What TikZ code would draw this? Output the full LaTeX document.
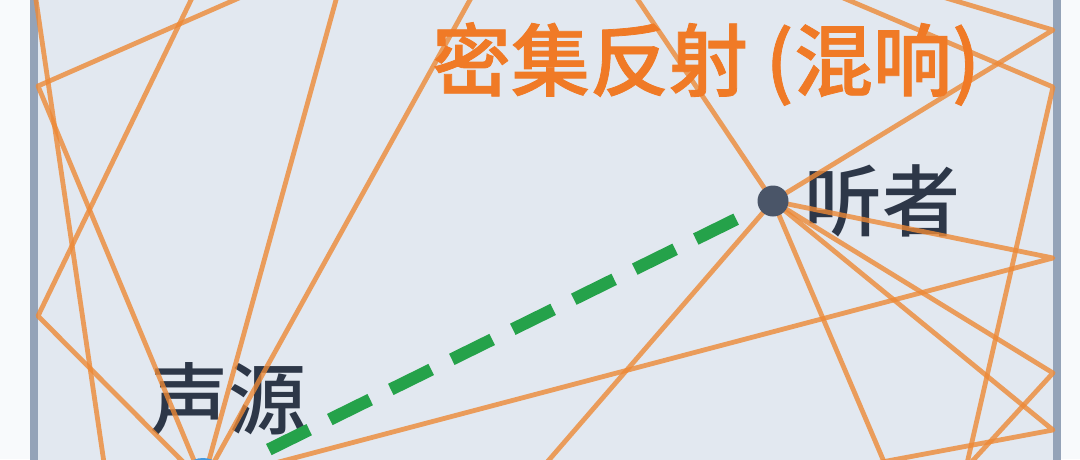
\documentclass[tikz,border=0pt]{standalone}
\usepackage{fontspec}
\usetikzlibrary{calc}
\newfontfamily\cjkm{Noto Sans CJK SC Medium}
\newfontfamily\cjkt{Noto Sans CJK SC Medium}[FakeBold=1]
\definecolor{outerbg}{HTML}{F8FAFC}
\definecolor{roomfill}{HTML}{E2E8F0}
\definecolor{wallc}{HTML}{94A3B8}
\definecolor{rayc}{HTML}{ED8936}
\definecolor{titlec}{HTML}{F07A26}
\definecolor{labelc}{HTML}{2D3748}
\definecolor{lisc}{HTML}{4A5568}
\definecolor{srcc}{HTML}{4299E1}
\definecolor{directc}{HTML}{25A24A}
\begin{document}
\begin{tikzpicture}[x=1pt,y=-1pt,
  ray/.style={draw=rayc, line width=4.8pt, opacity=0.8, line join=round},
  wallbar/.style={fill=wallc, draw=none},
  direct/.style={draw=directc, line width=12.5pt, dash pattern=on 45pt off 23pt},
  dotn/.style={circle, inner sep=0pt, draw=none},
  lbl/.style={inner sep=0pt, text=labelc, font=\cjkm\fontsize{78}{80}\selectfont},
  ttl/.style={inner sep=0pt, text=titlec, font=\cjkt\fontsize{79}{82}\selectfont},
]
\useasboundingbox (0,0) rectangle (1080,459);
\clip (0,0) rectangle (1080,459);
\fill[outerbg] (0,0) rectangle (1080,459);
\fill[roomfill] (38,-20) rectangle (1053,490);
\fill[wallbar] (30,-20) rectangle (38,490);
\fill[wallbar] (1053,-20) rectangle (1061,490);

% positions
\coordinate (S) at (203,482);
\coordinate (L) at (773,201);
% wall reflection points
\coordinate (R1) at (38,86);
\coordinate (R2) at (38,316);
\coordinate (R3) at (1053,87);
\coordinate (R4) at (1053,30);
\coordinate (R5) at (1053,258);
\coordinate (R6) at (1053,373);
\coordinate (R7) at (1053,430);
\coordinate (B1) at (966,468);
% ray ends beyond the picture
\coordinate (TA) at (35,-7);
\coordinate (BA) at (108,490);
\coordinate (TB) at (280,-20);
\coordinate (TC) at (200.7,-20);
\coordinate (TE) at (341.5,-20);
\coordinate (TF) at (481,-20);
\coordinate (TG) at (624.6,-20);
\coordinate (TI) at (801,-20);
\coordinate (TJ) at (886,-20);
\coordinate (BK) at (896,490);
\coordinate (BQ) at (839,470);
\coordinate (BN) at (523,490);

% labels
\node[lbl] (srclbl) at (228.5,399) {声源};
\node[lbl] (lislbl) at (882,200.5) {听者};

% reflections
\draw[ray] (TA) -- (BA);
\draw[ray] (TB) -- (R1) -- (S);
\draw[ray] (TC) -- (R2) -- (S);
\draw[ray] (TE) -- (S);
\draw[ray] (TF) -- (S);
\draw[ray] (TG) -- (L);
\draw[ray] (TI) -- (R3) -- (B1);
\draw[ray] (TJ) -- (R4) -- (L);
\draw[ray] (L) -- (R5) -- (S);
\draw[ray] (L) -- (R6) -- (B1);
\draw[ray] (L) -- (R7) -- (BQ);
\draw[ray] (L) -- (BK);
\draw[ray] (L) -- (BN);

% direct sound
\draw[direct] ($(S)!73.4pt!(L)$) -- ($(L)!20pt!(S)$);

% source and listener
\node[dotn, fill=srcc, minimum size=48pt] (src) at (S) {};
\node[dotn, fill=lisc, minimum size=31pt] (lis) at (L) {};

% title
\node[ttl] (title) at (706,64) {密集反射 (混响)};
\end{tikzpicture}
\end{document}
